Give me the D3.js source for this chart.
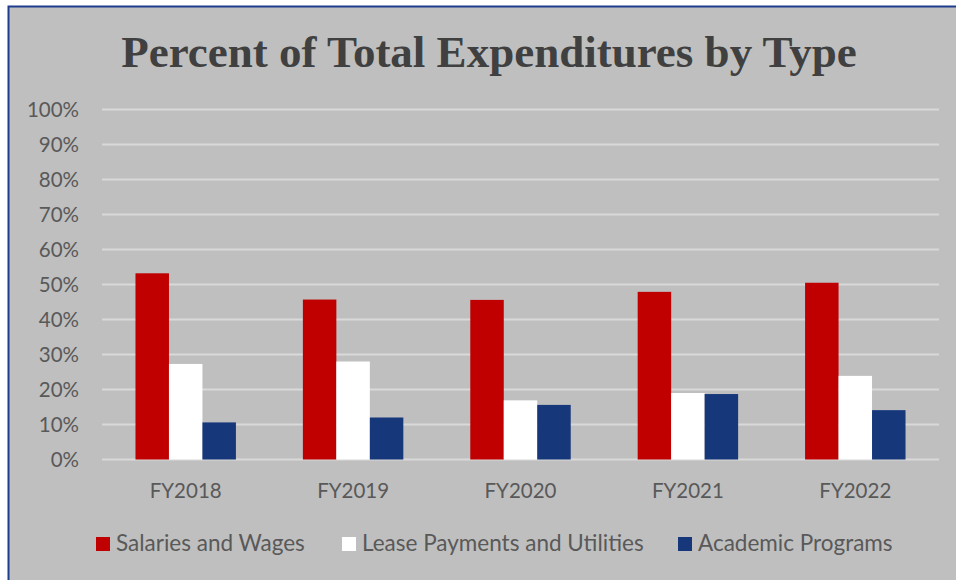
<!DOCTYPE html>
<html>
<head>
<meta charset="utf-8">
<script src="https://cdn.jsdelivr.net/npm/d3@7"></script>
<style>
  body { margin: 0; background: #ffffff; }
  svg { display: block; }
</style>
</head>
<body>
<div id="chart"></div>
<script>
// Chart data
let years = ['FY2018', 'FY2019', 'FY2020', 'FY2021', 'FY2022'];
let seriesNames = ['Salaries and Wages', 'Lease Payments and Utilities', 'Academic Programs'];
let salaries = [53.2, 45.7, 45.6, 47.9, 50.5];
let lease = [27.3, 28.0, 16.9, 19.0, 23.9];
let academic = [10.6, 12.0, 15.6, 18.7, 14.1];
let yTicks = [0, 10, 20, 30, 40, 50, 60, 70, 80, 90, 100];

let colors = ['#c00000', '#ffffff', '#17377b'];

// Set svg dimensions
let svgWidth = 956;
let svgHeight = 580;
let margins = { top: 109.5, bottom: 120.5, left: 102, right: 17 };
let chartWidth = svgWidth - margins.left - margins.right;
let chartHeight = svgHeight - margins.top - margins.bottom;

let svg = d3.select('#chart').append('svg')
    .attr('width', svgWidth)
    .attr('height', svgHeight);

// Background and border
svg.append('rect')
    .attr('x', 8.5).attr('y', 6.5)
    .attr('width', svgWidth).attr('height', svgHeight)
    .attr('fill', '#bfbfbf')
    .attr('stroke', '#1f3d8c')
    .attr('stroke-width', 2);

// Title
svg.append('text')
    .attr('x', 489)
    .attr('y', 66.5)
    .attr('text-anchor', 'middle')
    .style('font-family', '"Liberation Serif", "DejaVu Serif", serif')
    .style('font-weight', 'bold')
    .style('font-size', '45px')
    .attr('fill', '#404040')
    .text('Percent of Total Expenditures by Type');

let chart = svg.append('g')
    .attr('transform', `translate(${margins.left}, ${margins.top})`);

// Scales
let xScale = d3.scaleBand().domain(years).range([0, chartWidth]).padding(0);
let xInner = d3.scaleBand().domain(seriesNames)
    .range([xScale.bandwidth() * 0.2, xScale.bandwidth() * 0.8]);
let yScale = d3.scaleLinear().domain([0, 100]).range([chartHeight, 0]);

// Gridlines
chart.append('g')
    .selectAll('line')
    .data(yTicks).enter()
    .append('line')
    .attr('x1', 0).attr('x2', chartWidth)
    .attr('y1', d => yScale(d)).attr('y2', d => yScale(d))
    .attr('stroke', '#d9d9d9')
    .attr('stroke-width', 2);

// Y axis labels
let yAxis = d3.axisLeft(yScale).tickValues(yTicks).tickFormat(d => d + '%').tickSize(0).tickPadding(23);
let yAxisTag = chart.append('g').call(yAxis);
yAxisTag.select('.domain').remove();
yAxisTag.selectAll('text')
    .style('font-family', 'Lato, "Liberation Sans", sans-serif')
    .style('font-size', '20.5px')
    .attr('fill', '#595959');

// X axis labels
let xAxis = d3.axisBottom(xScale).tickSize(0).tickPadding(24);
let xAxisTag = chart.append('g').attr('transform', `translate(0, ${chartHeight})`).call(xAxis);
xAxisTag.select('.domain').remove();
xAxisTag.selectAll('text')
    .style('font-family', 'Lato, "Liberation Sans", sans-serif')
    .style('font-size', '20.5px')
    .attr('fill', '#595959');

// Bars
let rows = years.map((y, i) => ({ year: y, values: [salaries[i], lease[i], academic[i]] }));
let groups = chart.selectAll('g.yearGroup')
    .data(rows).enter()
    .append('g')
    .attr('class', 'yearGroup')
    .attr('transform', d => `translate(${xScale(d.year)}, 0)`);

groups.selectAll('rect')
    .data(d => d.values.map((v, j) => ({ name: seriesNames[j], value: v, color: colors[j] })))
    .enter()
    .append('rect')
    .attr('x', d => xInner(d.name))
    .attr('width', xInner.bandwidth())
    .attr('y', d => yScale(d.value))
    .attr('height', d => chartHeight - yScale(d.value))
    .attr('fill', d => d.color);

// Legend
let legendX = [96, 342, 678];
let legend = svg.selectAll('g.legendItem')
    .data(seriesNames).enter()
    .append('g')
    .attr('class', 'legendItem')
    .attr('transform', (d, i) => `translate(${legendX[i]}, 537)`);
legend.append('rect')
    .attr('width', 14).attr('height', 14)
    .attr('fill', (d, i) => colors[i]);
legend.append('text')
    .attr('x', 20).attr('y', 14)
    .style('font-family', 'Lato, "Liberation Sans", sans-serif')
    .style('font-size', '22.5px')
    .attr('fill', '#595959')
    .text(d => d);
</script>
</body>
</html>
